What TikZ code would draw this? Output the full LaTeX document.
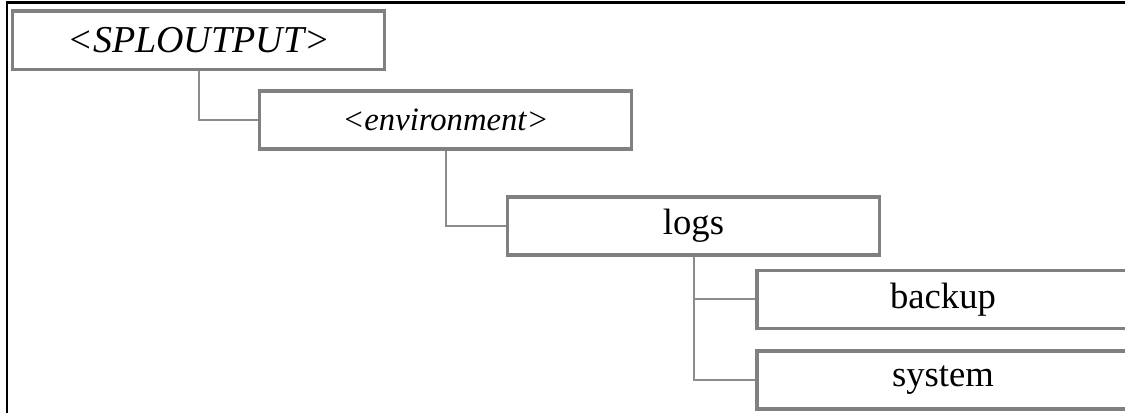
\documentclass[tikz,border=0pt]{standalone}
\usepackage{fontspec}
\setmainfont{Liberation Serif}
\usepackage{tikz}
\usepackage{xcolor}
\usetikzlibrary{positioning}

\definecolor{boxgray}{HTML}{808080}
\definecolor{linegray}{HTML}{8C8C8C}

\begin{document}
\begin{tikzpicture}[x=0.75pt,y=-0.75pt,
folder/.style={draw=boxgray,line width=2.6pt,fill=white,minimum width=279pt,minimum height=43.8pt,inner sep=0pt,font=\fontsize{27.5}{30}\selectfont},
branch/.style={draw=linegray,line width=1.5pt}]
\useasboundingbox (0,0) rectangle (1125,413);
\draw[line width=1.9pt] (1125,2.5) -- (7,2.5) -- (7,413);
\node[folder,font=\fontsize{28.5}{31}\selectfont] (splout) at (198.75,40.25) {\textit{<SPLOUTPUT>}};
\node[folder,font=\fontsize{24.5}{28}\selectfont] (env) at (445.5,120) {\textit{<environment>}};
\node[folder] (logs) at (693.5,226) {logs};
\node[folder] (backup) at (943,299.5) {backup};
\node[folder] (system) at (943,380) {system};
\draw[branch] (splout.south) |- (env.west);
\draw[branch] (env.south) |- (logs.west);
\draw[branch] (logs.south) |- (backup.west);
\draw[branch] (logs.south) |- (system.west);
\end{tikzpicture}
\end{document}
